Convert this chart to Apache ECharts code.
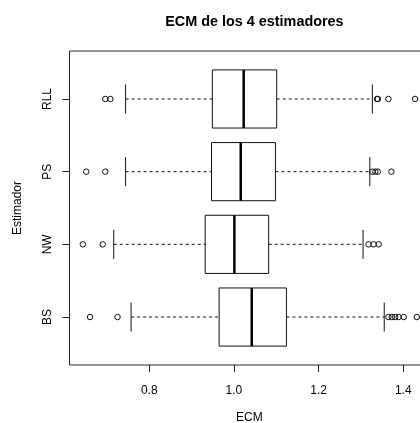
<!DOCTYPE html>
<html>
<head>
<meta charset="utf-8">
<script src="https://cdn.jsdelivr.net/npm/echarts@6/dist/echarts.min.js"></script>
<style>
html,body{margin:0;padding:0;background:#fff;}
#chart{width:420px;height:423px;}
</style>
</head>
<body>
<div id="chart"></div>
<script>
const categories = ['BS', 'NW', 'PS', 'RLL'];
const whiskerLow = [0.757, 0.716, 0.744, 0.744];
const q1 = [0.965, 0.932, 0.947, 0.949];
const median = [1.042, 1.001, 1.016, 1.023];
const q3 = [1.124, 1.082, 1.098, 1.101];
const whiskerHigh = [1.355, 1.305, 1.321, 1.327];
const outliersBS = [0.660, 0.725, 1.365, 1.373, 1.381, 1.389, 1.401, 1.432];
const outliersNW = [0.643, 0.690, 1.318, 1.330, 1.342];
const outliersPS = [0.651, 0.696, 1.327, 1.334, 1.340, 1.372];
const outliersRLL = [0.696, 0.708, 1.338, 1.340, 1.365, 1.428];
const xTicks = [0.8, 1.0, 1.2, 1.4];

const FONT = 'Liberation Sans, Arial, Helvetica, sans-serif';
const chart = echarts.init(document.getElementById('chart'), null, {renderer: 'canvas'});

const boxData = categories.map((c, i) => [i + 1, whiskerLow[i], q1[i], median[i], q3[i], whiskerHigh[i]]);
const outlierSets = [outliersBS, outliersNW, outliersPS, outliersRLL];
const outlierData = [];
outlierSets.forEach((arr, i) => arr.forEach(v => outlierData.push([v, i + 1])));

function renderBox(params, api) {
  const y = api.value(0);
  const pLo = api.coord([api.value(1), y]);
  const pA = api.coord([api.value(2), y]);
  const pM = api.coord([api.value(3), y]);
  const pB = api.coord([api.value(4), y]);
  const pHi = api.coord([api.value(5), y]);
  const h = api.size([0, 0.8])[1];
  const cy = pLo[1];
  const half = h / 2;
  const sh = h / 4;
  const stroke = '#111';
  return {
    type: 'group',
    children: [
      {type: 'line', shape: {x1: pLo[0], y1: cy, x2: pA[0], y2: cy}, style: {stroke: stroke, lineWidth: 1, lineDash: [3, 3]}},
      {type: 'line', shape: {x1: pB[0], y1: cy, x2: pHi[0], y2: cy}, style: {stroke: stroke, lineWidth: 1, lineDash: [3, 3]}},
      {type: 'line', shape: {x1: pLo[0], y1: cy - sh, x2: pLo[0], y2: cy + sh}, style: {stroke: stroke, lineWidth: 1}},
      {type: 'line', shape: {x1: pHi[0], y1: cy - sh, x2: pHi[0], y2: cy + sh}, style: {stroke: stroke, lineWidth: 1}},
      {type: 'rect', shape: {x: pA[0], y: cy - half, width: pB[0] - pA[0], height: h}, style: {fill: '#fff', stroke: stroke, lineWidth: 1}},
      {type: 'line', shape: {x1: pM[0], y1: cy - half, x2: pM[0], y2: cy + half}, style: {stroke: '#000', lineWidth: 2.5}}
    ]
  };
}

chart.setOption({
  animation: false,
  backgroundColor: '#fff',
  title: {
    text: 'ECM de los 4 estimadores',
    left: 249.4,
    textAlign: 'center',
    top: 10,
    textStyle: {fontFamily: FONT, fontSize: 14.4, fontWeight: 'bold', color: '#000'}
  },
  grid: {left: 69.5, top: 51, width: 359.8, height: 314, show: true, borderColor: '#222', borderWidth: 1, containLabel: false, outerBoundsMode: 'none'},
  xAxis: {
    type: 'value',
    min: 0.6115,
    max: 1.4615,
    name: 'ECM',
    nameLocation: 'middle',
    nameGap: 47,
    nameTextStyle: {fontFamily: FONT, fontSize: 12, color: '#000'},
    axisLine: {show: false},
    splitLine: {show: false},
    axisTick: {show: true, length: 7, customValues: xTicks, lineStyle: {color: '#222', width: 1}},
    axisLabel: {show: true, customValues: xTicks, margin: 20, formatter: v => v.toFixed(1), fontFamily: FONT, fontSize: 12, color: '#000'}
  },
  yAxis: {
    type: 'value',
    min: 0.34,
    max: 4.66,
    name: 'Estimador',
    nameLocation: 'middle',
    nameGap: 46,
    nameRotate: 90,
    nameTextStyle: {fontFamily: FONT, fontSize: 12, color: '#000'},
    axisLine: {show: false},
    splitLine: {show: false},
    axisTick: {show: true, length: 7, customValues: [1, 2, 3, 4], lineStyle: {color: '#222', width: 1}},
    axisLabel: {show: true, customValues: [1, 2, 3, 4], rotate: 90, margin: 16, formatter: v => categories[Math.round(v) - 1], fontFamily: FONT, fontSize: 12, color: '#000'}
  },
  series: [
    {
      type: 'custom',
      renderItem: renderBox,
      data: boxData,
      encode: {x: [1, 2, 3, 4, 5], y: 0},
      clip: false,
      z: 2
    },
    {
      type: 'scatter',
      data: outlierData,
      symbol: 'circle',
      symbolSize: 5.5,
      itemStyle: {color: 'rgba(0,0,0,0)', borderColor: '#111', borderWidth: 1, opacity: 1},
      z: 3
    }
  ]
});
</script>
</body>
</html>
